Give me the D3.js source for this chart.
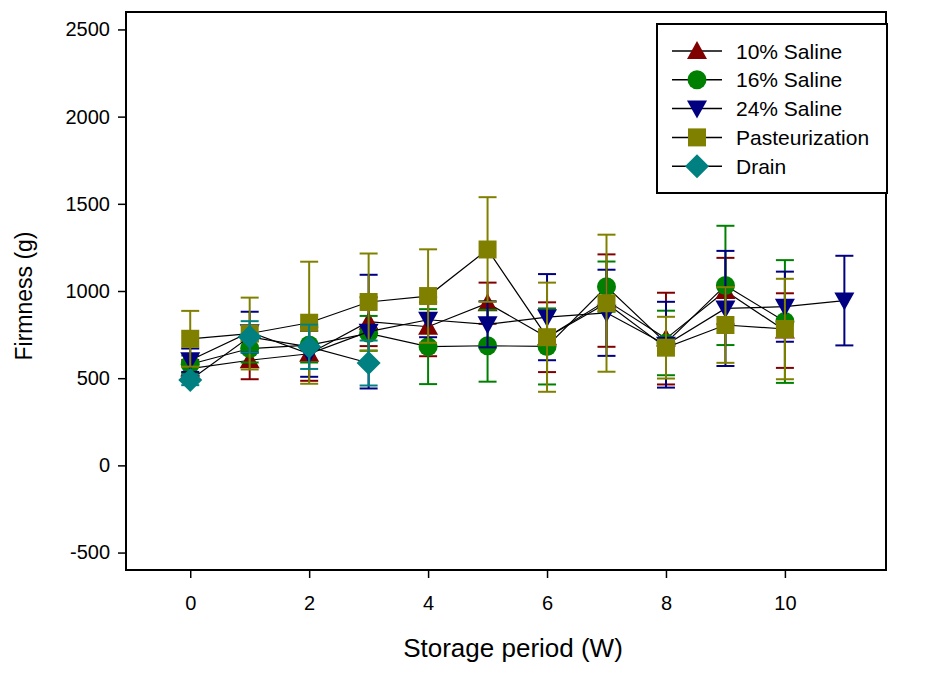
<!DOCTYPE html>
<html><head><meta charset="utf-8">
<script src="https://cdn.jsdelivr.net/npm/d3@7"></script>
<style>body{margin:0;background:#fff}svg{display:block}text{font-family:"Liberation Sans",Arial,sans-serif}</style>
</head><body>
<svg id="c" width="931" height="676"></svg>
<script>
const weeks = [0,1,2,3,4,5,6,7,8,9,10,11];
const saline10 = [555,603,640,824,795,930,735,945,727,1000,773];
const saline10Err = [50,109,155,140,169,118,200,265,263,190,214];
const saline16 = [580,670,690,757,681,686,682,1025,702,1032,825];
const saline16Err = [50,80,100,100,215,206,218,144,185,342,352];
const saline24 = [603,764,640,767,835,809,850,875,692,900,910,945];
const saline24Err = [67,117,132,326,100,132,247,247,246,330,201,257];
const pasteur = [726,756,818,937,971,1238,735,930,675,805,782];
const pasteurErr = [160,206,350,278,268,300,313,393,177,217,288];
const drain = [490,737,680,587];
const drainErr = [30,90,127,129];
const seriesNames = ["10% Saline","16% Saline","24% Saline","Pasteurization","Drain"];
const colors = ["#800000","#008000","#000080","#808000","#008080"];
const shapes = ["triangle","circle","tridown","square","diamond"];
const yTicks = [-500,0,500,1000,1500,2000,2500];
const xTicks = [0,2,4,6,8,10];

const series = [
  {vals:saline10, err:saline10Err},
  {vals:saline16, err:saline16Err},
  {vals:saline24, err:saline24Err},
  {vals:pasteur, err:pasteurErr},
  {vals:drain, err:drainErr}
].map((s,i)=>({name:seriesNames[i],color:colors[i],shape:shapes[i],
  pts:s.vals.map((v,j)=>({x:weeks[j],y:v,e:s.err[j]}))}));

const svg = d3.select("#c");
const L=126,R=886,T=12,B=570;
const x = d3.scaleLinear().domain([-1.08,11.7]).range([L,R]);
const y = d3.scaleLinear().domain([-600,2600]).range([B,T]);

function sym(g, shape, color, cx, cy){
  if(shape==="circle") g.append("circle").attr("cx",cx).attr("cy",cy).attr("r",9.5).attr("fill",color);
  else if(shape==="square") g.append("rect").attr("x",cx-9).attr("y",cy-9).attr("width",18).attr("height",18).attr("fill",color);
  else if(shape==="triangle") g.append("path").attr("d",`M${cx},${cy-10}L${cx+10},${cy+8}L${cx-10},${cy+8}Z`).attr("fill",color);
  else if(shape==="tridown") g.append("path").attr("d",`M${cx},${cy+10}L${cx+10},${cy-8}L${cx-10},${cy-8}Z`).attr("fill",color);
  else if(shape==="diamond") g.append("path").attr("d",`M${cx},${cy-12}L${cx+12},${cy}L${cx},${cy+12}L${cx-12},${cy}Z`).attr("fill",color);
}

const plot = svg.append("g");
series.forEach(s=>{
  const g = plot.append("g");
  g.append("path").datum(s.pts).attr("fill","none").attr("stroke","#000").attr("stroke-width",1.2)
    .attr("d", d3.line().x(d=>x(d.x)).y(d=>y(d.y)));
  s.pts.forEach(p=>{
    const cx=x(p.x);
    g.append("line").attr("x1",cx).attr("x2",cx).attr("y1",y(p.y+p.e)).attr("y2",y(p.y-p.e)).attr("stroke",s.color).attr("stroke-width",2);
    [p.y+p.e,p.y-p.e].forEach(v=>g.append("line").attr("x1",cx-9).attr("x2",cx+9).attr("y1",y(v)).attr("y2",y(v)).attr("stroke",s.color).attr("stroke-width",2));
  });
  s.pts.forEach(p=>sym(g,s.shape,s.color,x(p.x),y(p.y)));
});

// frame
svg.append("rect").attr("x",L).attr("y",T).attr("width",R-L).attr("height",B-T).attr("fill","none").attr("stroke","#000").attr("stroke-width",2);

const fmt = d => String(d);
const ya = svg.append("g").attr("transform",`translate(${L},0)`)
  .call(d3.axisLeft(y).tickValues(yTicks).tickSize(8).tickPadding(8).tickFormat(fmt));
ya.select(".domain").remove();
ya.selectAll("line").attr("stroke-width",1.5);
ya.selectAll("text").attr("font-size",20).attr("fill","#000").style("font-family","'Liberation Sans',Arial,sans-serif");
const xa = svg.append("g").attr("transform",`translate(0,${B})`)
  .call(d3.axisBottom(x).tickValues(xTicks).tickSize(8).tickPadding(18).tickFormat(fmt));
xa.select(".domain").remove();
xa.selectAll("line").attr("stroke-width",1.5);
xa.selectAll("text").attr("font-size",20).attr("fill","#000").style("font-family","'Liberation Sans',Arial,sans-serif");

svg.append("text").attr("x",513).attr("y",657).attr("text-anchor","middle").attr("font-size",26).text("Storage period (W)");
svg.append("text").attr("transform","translate(32,296) rotate(-90)").attr("text-anchor","middle").attr("font-size",23).text("Firmness (g)");

// legend
const lg = svg.append("g");
lg.append("rect").attr("x",657).attr("y",24).attr("width",230).attr("height",169).attr("fill","#fff").attr("stroke","#000").attr("stroke-width",2);
series.forEach((s,i)=>{
  const cy = 51 + i*28.8;
  lg.append("line").attr("x1",672).attr("x2",722).attr("y1",cy).attr("y2",cy).attr("stroke","#000").attr("stroke-width",1.5);
  sym(lg,s.shape,s.color,697,cy);
  lg.append("text").attr("x",736).attr("y",cy+7.5).attr("font-size",21).text(s.name);
});
</script>
</body></html>
